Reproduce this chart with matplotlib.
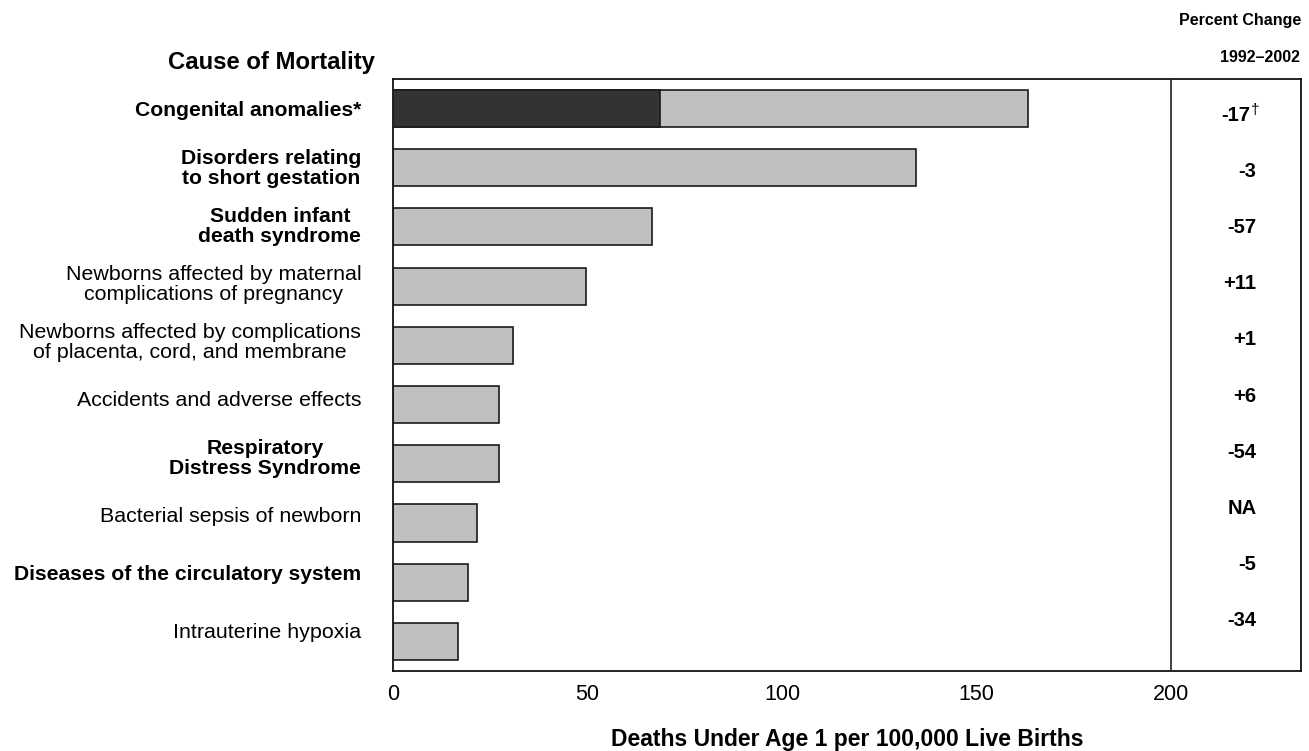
import matplotlib
matplotlib.use("Agg")
import matplotlib.pyplot as plt
import matplotlib.transforms as mtransforms

plt.rcParams['font.family'] = ['Liberation Sans', 'DejaVu Sans']

# ---------------- data ----------------
categories = [
    "Congenital anomalies*",
    "Disorders relating\nto short gestation",
    "Sudden infant\ndeath syndrome",
    "Newborns affected by maternal\ncomplications of pregnancy",
    "Newborns affected by complications\nof placenta, cord, and membrane",
    "Accidents and adverse effects",
    "Respiratory\nDistress Syndrome",
    "Bacterial sepsis of newborn",
    "Diseases of the circulatory system",
    "Intrauterine hypoxia",
]
bold_flags = [True, True, True, False, False, False, True, False, True, False]
rates = [163.2, 134.4, 66.6, 49.6, 30.9, 27.3, 27.3, 21.5, 19.4, 16.8]
dark_part = [68.6, 0, 0, 0, 0, 0, 0, 0, 0, 0]
pct_change = ["-17", "-3", "-57", "+11", "+1", "+6", "-54", "NA", "-5", "-34"]
xticks = [0, 50, 100, 150, 200]

# ---------------- figure ----------------
fig = plt.figure(figsize=(13.09, 7.51), dpi=100)
ax = fig.add_axes([393 / 1309, 1 - 671 / 751, 908 / 1309, 592 / 751])

n = len(categories)
ypos = list(range(n))
ax.barh(ypos, rates, height=0.625, color="#c0c0c0", edgecolor="#1a1a1a",
        linewidth=1.2, zorder=2)
ax.barh(ypos, dark_part, height=0.625, color="#333333", edgecolor="#1a1a1a",
        linewidth=1.2, zorder=3)

ax.set_xlim(0, 233.4)
ax.set_ylim(n - 0.5, -0.5)
ax.axvline(200, color="#333333", linewidth=1.3, zorder=4)

for s in ax.spines.values():
    s.set_linewidth(1.3)
    s.set_color("#111111")

ax.set_xticks(xticks)
ax.set_xticklabels([str(t) for t in xticks], fontsize=15.5)
ax.tick_params(axis='x', length=0, pad=9)
ax.set_yticks([])

ax.set_xlabel("Deaths Under Age 1 per 100,000 Live Births", fontsize=16.5,
              fontweight='bold', va='center')
ax.xaxis.set_label_coords(0.5, -0.115)

# category labels
trans = mtransforms.blended_transform_factory(ax.transAxes, ax.transData)
for i, (lab, b) in enumerate(zip(categories, bold_flags)):
    ax.text(-0.035, i * 0.98 + 0.03, lab, transform=trans, ha='right',
            va='center', multialignment='center',
            fontsize=15.2 if b else 15.4,
            fontweight='bold' if b else 'normal', linespacing=1.02)

# percent change column
for i, p in enumerate(pct_change):
    y = 0.12 + 0.947 * i
    if i == 0:
        ax.text(220.3, y, p, ha='right', va='center', fontsize=14.5,
                fontweight='bold')
        ax.annotate("\u2020", xy=(220.3, y), xycoords='data',
                    xytext=(0.5, 4), textcoords='offset points',
                    ha='left', va='center', fontsize=11)
    else:
        ax.text(221.9, y, p, ha='right', va='center', fontsize=14.5,
                fontweight='bold')

# headers
fig.text(271 / 1309, 1 - 63 / 751, "Cause of Mortality", ha='center',
         va='center', fontsize=17.2, fontweight='bold')
fig.text(1240 / 1309, 1 - 20 / 751, "Percent Change", ha='center',
         va='center', fontsize=11.5, fontweight='bold')
fig.text(1260 / 1309, 1 - 57 / 751, "1992\u20132002", ha='center',
         va='center', fontsize=11.5, fontweight='bold')

fig.savefig("out.png", dpi=100)
